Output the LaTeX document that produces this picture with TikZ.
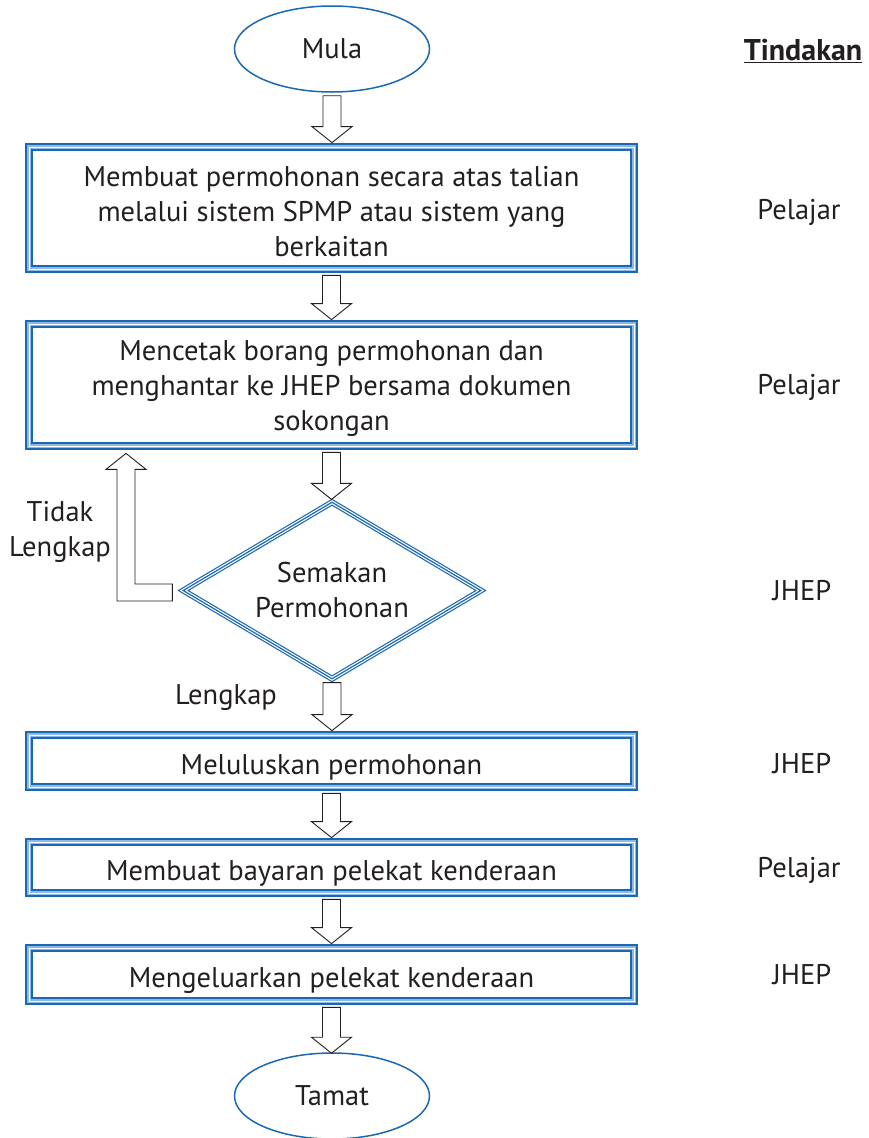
\documentclass[tikz,border=0pt]{standalone}
\usepackage{fontspec}
\setmainfont{PT Sans}
\usetikzlibrary{shapes.geometric,calc}
\definecolor{dkblue}{HTML}{1A68B3}
\definecolor{ltblue}{HTML}{8FB8E2}
\definecolor{txt}{HTML}{231F20}
\newcommand\harrow[2]{\draw[harr] let \p1=#1, \p2=#2 in (\x1-9pt,\y1) -- (\x1-9pt,\y2+16pt) -- (\x1-20pt,\y2+16pt) -- (\x1,\y2) -- (\x1+20pt,\y2+16pt) -- (\x1+9pt,\y2+16pt) -- (\x1+9pt,\y1) -- cycle;}
\newcommand\topstrut{\rule{0pt}{27pt}}
\begin{document}
\begin{tikzpicture}[x=1pt,y=-1pt,
  every node/.style={text=txt, font=\fontsize{28.5}{35}\selectfont},
  tbox/.style={rectangle, draw=white, line width=0.7pt,
    preaction={draw=dkblue, line width=2pt, double=ltblue, double distance=4pt},
    minimum width=605pt, inner sep=0pt, align=center},
  onel/.style={text height=26pt, text depth=0pt},
  tdia/.style={diamond, draw=dkblue, line width=1.2pt,
    preaction={draw=dkblue, line width=1.2pt, double=white, double distance=3.6pt},
    minimum width=298pt, minimum height=177pt, inner sep=0pt, aspect=1.7, align=center},
  term/.style={ellipse, draw=dkblue, line width=1.5pt, minimum width=195pt, minimum height=86pt},
  harr/.style={draw=txt, line width=0.9pt, fill=white, line join=miter},
  lbl/.style={align=center}]
\useasboundingbox (0,0) rectangle (869,1138);

\node[term] (mula) at (332,49) {Mula};
\node[tbox, minimum height=122pt] (b1) at (331.5,208) {\topstrut Membuat permohonan secara atas talian\\melalui sistem SPMP atau sistem yang\\berkaitan};
\node[tbox, minimum height=122pt] (b2) at (331.5,385) {\topstrut Mencetak borang permohonan dan\\menghantar ke JHEP bersama dokumen\\sokongan};
\node[tdia] (dia) at (332,590.5) {Semakan\\Permohonan};
\node[tbox, onel, minimum height=52pt] (b3) at (331.5,761) {Meluluskan permohonan};
\node[tbox, onel, minimum height=51pt] (b4) at (331.5,867.5) {Membuat bayaran pelekat kenderaan};
\node[tbox, onel, minimum height=53pt] (b5) at (331.5,974.5) {Mengeluarkan pelekat kenderaan};
\node[term] (tamat) at (332,1096) {Tamat};

\node[lbl] (tidak) at (60,532) {Tidak\\Lengkap};
\node[lbl] (lengkap) at (226,698) {Lengkap};

\node[font=\fontsize{30}{35}\selectfont\bfseries] (tind) at (803,51) {\underline{Tindakan}};
\node (p1) at (799,212) {Pelajar};
\node (p2) at (799,387) {Pelajar};
\node (j1) at (802,591) {JHEP};
\node (j2) at (802,764) {JHEP};
\node (p3) at (799,870) {Pelajar};
\node (j3) at (802,975) {JHEP};

\harrow{($(mula.south)+(0pt,-3pt)$)}{($(b1.north)+(0pt,4pt)$)}
\harrow{($(b1.south)+(0pt,-6pt)$)}{($(b2.north)+(0pt,4pt)$)}
\harrow{($(b2.south)+(0pt,-6pt)$)}{($(dia.north)+(0pt,2pt)$)}
\harrow{($(dia.south)+(0pt,-3pt)$)}{($(b3.north)+(0pt,4pt)$)}
\harrow{($(b3.south)+(0pt,-6pt)$)}{($(b4.north)+(0pt,4pt)$)}
\harrow{($(b4.south)+(0pt,-6pt)$)}{($(b5.north)+(0pt,4pt)$)}
\harrow{($(b5.south)+(0pt,-6pt)$)}{($(tamat.north)+(0pt,-1pt)$)}

\draw[harr] let \p1=(dia.west), \p2=(b2.south) in
  (\x1-10pt,\y1+6.5pt) -- (135pt,\y1+6.5pt) -- (135pt,\y2-23pt) -- (146pt,\y2-23pt)
  -- (126pt,\y2-7pt) -- (106pt,\y2-23pt) -- (117pt,\y2-23pt) -- (117pt,\y1-10.5pt)
  -- (\x1-10pt,\y1-10.5pt) -- cycle;
\end{tikzpicture}
\end{document}
